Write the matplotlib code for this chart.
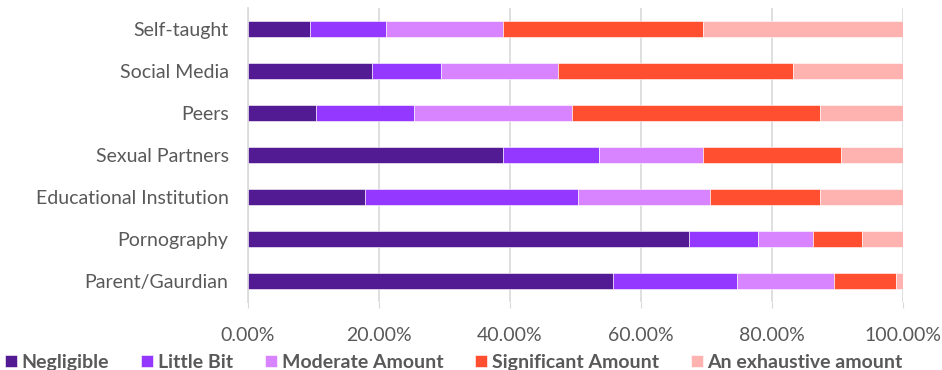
import matplotlib
matplotlib.use("Agg")
import matplotlib.pyplot as plt
import numpy as np

categories = ["Parent/Gaurdian", "Pornography", "Educational Institution",
              "Sexual Partners", "Peers", "Social Media", "Self-taught"]
series_names = ["Negligible", "Little Bit", "Moderate Amount",
                "Significant Amount", "An exhaustive amount"]
negligible = [55.8, 67.4, 17.8, 38.9, 10.4, 18.9, 9.4]
little_bit = [18.9, 10.5, 32.6, 14.7, 14.9, 10.5, 11.6]
moderate = [14.8, 8.4, 20.2, 15.9, 24.2, 17.9, 17.9]
significant = [9.4, 7.4, 16.7, 21.0, 37.8, 35.9, 30.6]
exhaustive = [1.1, 6.3, 12.7, 9.5, 12.7, 16.8, 30.5]
tick_labels = ["0.00%", "20.00%", "40.00%", "60.00%", "80.00%", "100.00%"]

colors = ["#521b93", "#9437ff", "#d883ff", "#ff4f30", "#ffb3b0"]

plt.rcParams['font.family'] = ['Lato', 'DejaVu Sans']

fig = plt.figure(figsize=(9.42, 3.70), dpi=100)
ax = fig.add_axes([248/942, 1 - 302/370, 655/942, 294/370])

y = np.arange(len(categories))
left = np.zeros(len(categories))
for name, vals, c in zip(series_names, [negligible, little_bit, moderate, significant, exhaustive], colors):
    vals = np.array(vals)
    ax.barh(y, vals, left=left, height=0.4, color=c, label=name,
            edgecolor='white', linewidth=0.4, zorder=3)
    left += vals

ax.set_xlim(0, 100)
ax.set_ylim(-0.5, len(categories) - 0.5)
ax.set_yticks(y)
ax.set_yticklabels(categories, fontsize=14, color='#595959')
ax.set_xticks(np.arange(0, 101, 20))
ax.set_xticklabels(tick_labels, fontsize=14, color='#595959')
ax.tick_params(axis='y', length=0, pad=14)
ax.tick_params(axis='x', length=4, color='#d9d9d9', pad=14)
ax.grid(axis='x', color='#d9d9d9', linewidth=1.2, zorder=0)
for s in ['top', 'right', 'bottom']:
    ax.spines[s].set_visible(False)
ax.spines['left'].set_color('#d9d9d9')
ax.spines['left'].set_linewidth(1.2)

handles, labels = ax.get_legend_handles_labels()
leg = fig.legend(handles, labels, loc='lower left', bbox_to_anchor=(-0.013, -0.05),
                 ncol=5, frameon=False, handlelength=0.6, handleheight=0.6,
                 handletextpad=0.25, columnspacing=1.65,
                 prop={'weight': 'bold', 'size': 14})
for t in leg.get_texts():
    t.set_color('#595959')

fig.savefig("out.png", dpi=100)
